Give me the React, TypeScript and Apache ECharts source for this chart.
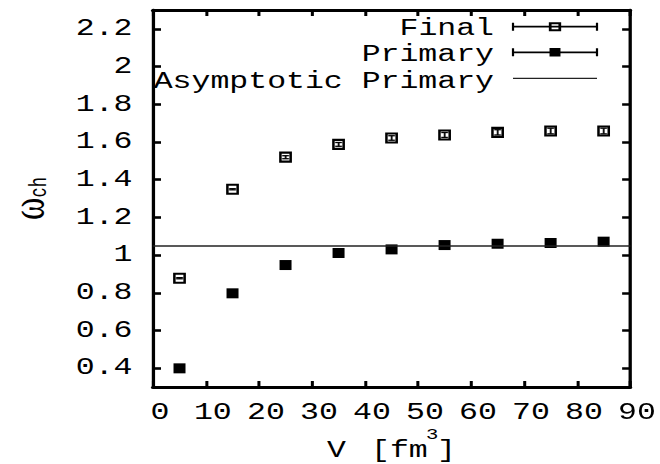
import React, { useEffect, useRef } from "react";
import * as echarts from "echarts";

// ---- data ----
const volumes = [5, 15, 25, 35, 45, 55, 65, 75, 85];
const finalValues = [0.877, 1.349, 1.519, 1.587, 1.621, 1.637, 1.651, 1.658, 1.658];
const finalErrors = [0.003, 0.003, 0.008, 0.01, 0.012, 0.013, 0.014, 0.015, 0.015];
const primaryValues = [0.399, 0.797, 0.947, 1.011, 1.03, 1.053, 1.06, 1.064, 1.071];
const asymptoticPrimary = 1.055;
const legendNames = ["Final", "Primary", "Asymptotic Primary"];

// horizontal stretch applied to the whole chart (reference uses a wide monospace font)
const S = 1.37;
const W = 660 / S;
const H = 464;
const sx = (px: number) => px / S;

const MONO = "'Liberation Mono', 'DejaVu Sans Mono', monospace";
const SERIF = "'Liberation Serif', 'DejaVu Serif', serif";
const FS = 23;

export default function App() {
  const ref = useRef<HTMLDivElement>(null);

  useEffect(() => {
    document.body.style.margin = "0";
    const chart = echarts.init(ref.current!, null, { renderer: "svg", width: W, height: H });

    const xBase = {
      type: "value" as const,
      min: 0,
      max: 90,
      interval: 10,
      splitLine: { show: false },
      axisLine: { show: true, onZero: false, lineStyle: { color: "#000", width: 3 } },
      axisTick: { show: true, inside: true, length: 6, lineStyle: { color: "#000", width: 2.2 } },
    };
    const yBase = {
      type: "value" as const,
      min: 0.3,
      max: 2.3,
      splitNumber: 10,
      splitLine: { show: false },
      axisLine: { show: true, onZero: false, lineStyle: { color: "#000", width: 2.4 } },
      axisTick: { show: true, inside: true, length: sx(8), lineStyle: { color: "#000", width: 2.6 } },
    };

    const rows = [
      { y: 26.7, ty: 28.3, kind: "open" },
      { y: 52.3, ty: 55, kind: "filled" },
      { y: 78.3, ty: 81.7, kind: "none" },
    ];
    const lx1 = sx(513);
    const lx2 = sx(597);
    const lxc = sx(555);
    const legendEls: any[] = [];
    rows.forEach((r, i) => {
      legendEls.push({
        type: "text",
        x: sx(494),
        y: r.ty,
        style: {
          text: legendNames[i],
          fontFamily: MONO,
          fontSize: FS,
          fill: "#000",
          align: "right",
          verticalAlign: "middle",
        },
      });
      legendEls.push({
        type: "line",
        shape: { x1: lx1, y1: r.y, x2: lx2, y2: r.y },
        style: { stroke: r.kind === "none" ? "#222" : "#000", lineWidth: r.kind === "none" ? 1.3 : 1.8 },
      });
      if (r.kind !== "none") {
        [lx1, lx2].forEach((cx) =>
          legendEls.push({
            type: "line",
            shape: { x1: cx, y1: r.y - 4, x2: cx, y2: r.y + 4 },
            style: { stroke: "#000", lineWidth: 1.6 },
          })
        );
      }
      if (r.kind === "open") {
        legendEls.push({
          type: "rect",
          shape: { x: lxc - 3.5, y: r.y - 3.5, width: 7, height: 7 },
          style: { fill: "none", stroke: "#000", lineWidth: 2 },
        });
      } else if (r.kind === "filled") {
        legendEls.push({
          type: "rect",
          shape: { x: lxc - 4, y: r.y - 4.3, width: 8, height: 8.6 },
          style: { fill: "#000" },
        });
      }
    });

    const mainY = 457 - 0.2665 * FS;
    const titleEls: any[] = [
      {
        type: "text",
        x: 20.6,
        y: 198.5,
        rotation: Math.PI / 2,
        style: {
          text: "{w|ω}{s|ch}",
          align: "center",
          verticalAlign: "middle",
          fill: "#000",
          rich: {
            w: { fontFamily: SERIF, fontSize: 34, fill: "#000" },
            s: { fontFamily: MONO, fontSize: 17, fill: "#000", verticalAlign: "bottom" },
          },
        },
      },
      { type: "text", x: sx(327), y: mainY, style: { text: "V", fontFamily: MONO, fontSize: FS, fill: "#000", align: "left", verticalAlign: "middle" } },
      { type: "text", x: sx(371), y: mainY, style: { text: "[fm", fontFamily: MONO, fontSize: FS, fill: "#000", align: "left", verticalAlign: "middle" } },
      { type: "text", x: sx(426), y: 435, style: { text: "3", fontFamily: MONO, fontSize: 15, lineHeight: 14, fill: "#000", align: "left", verticalAlign: "middle" } },
      { type: "text", x: sx(437), y: mainY, style: { text: "]", fontFamily: MONO, fontSize: FS, fill: "#000", align: "left", verticalAlign: "middle" } },
    ];

    const option: any = {
      animation: false,
      backgroundColor: "#fff",
      grid: { left: sx(153), right: W - sx(635), top: 10, bottom: 77, containLabel: false },
      xAxis: [
        {
          ...xBase,
          position: "bottom",
          axisLabel: {
            show: true,
            interval: 0,
            margin: 16,
            fontFamily: MONO,
            fontSize: FS,
            lineHeight: 20,
            color: "#000",
            padding: [0, 0, 0, 10],
            showMinLabel: true,
            showMaxLabel: true,
            hideOverlap: false,
          },
        },
        { ...xBase, position: "top", axisLabel: { show: false } },
      ],
      yAxis: [
        {
          ...yBase,
          position: "left",
          axisLabel: {
            show: true,
            margin: 15,
            fontFamily: MONO,
            fontSize: FS,
            color: "#000",
            padding: [7, 0, 0, 0],
            showMinLabel: false,
            showMaxLabel: false,
          },
        },
        { ...yBase, position: "right", axisLabel: { show: false } },
      ],
      series: [
        {
          name: "Primary",
          type: "scatter",
          xAxisIndex: 0,
          yAxisIndex: 0,
          symbol: "rect",
          symbolSize: [sx(12), 10],
          itemStyle: { color: "#000", opacity: 1 },
          data: volumes.map((v, i) => [v, primaryValues[i]]),
          z: 3,
          markLine: {
            silent: true,
            symbol: ["none", "none"],
            label: { show: false },
            lineStyle: { color: "#222", width: 1.5, type: "solid", opacity: 1 },
            data: [{ yAxis: asymptoticPrimary }],
          },
        },
        {
          name: "Final",
          type: "scatter",
          xAxisIndex: 0,
          yAxisIndex: 0,
          symbol: "rect",
          symbolSize: [7.5, 9],
          itemStyle: { color: "#fff", borderColor: "#000", borderWidth: 2, opacity: 1 },
          data: volumes.map((v, i) => [v, finalValues[i]]),
          z: 3,
        },
        {
          name: "Final errors",
          type: "custom",
          xAxisIndex: 0,
          yAxisIndex: 0,
          z: 4,
          data: volumes.map((v, i) => [v, finalValues[i], finalErrors[i]]),
          encode: { x: 0, y: 1 },
          renderItem: (_params: any, api: any) => {
            const x = api.value(0);
            const y = api.value(1);
            const e = api.value(2);
            const top = api.coord([x, y + e]);
            const bot = api.coord([x, y - e]);
            const cw = 2.6;
            const st = { stroke: "#000", lineWidth: 1.3 };
            return {
              type: "group",
              children: [
                { type: "line", shape: { x1: top[0], y1: top[1], x2: bot[0], y2: bot[1] }, style: st },
                { type: "line", shape: { x1: top[0] - cw, y1: top[1], x2: top[0] + cw, y2: top[1] }, style: st },
                { type: "line", shape: { x1: bot[0] - cw, y1: bot[1], x2: bot[0] + cw, y2: bot[1] }, style: st },
              ],
            };
          },
        },
      ],
      graphic: [...legendEls, ...titleEls],
    };

    chart.setOption(option);
    return () => chart.dispose();
  }, []);

  return (
    <div
      style={{
        position: "absolute",
        left: 0,
        top: 0,
        width: 660,
        height: 464,
        overflow: "hidden",
        background: "#fff",
      }}
    >
      <div
        ref={ref}
        style={{ width: W, height: H, transform: `scaleX(${S})`, transformOrigin: "0 0" }}
      />
    </div>
  );
}
